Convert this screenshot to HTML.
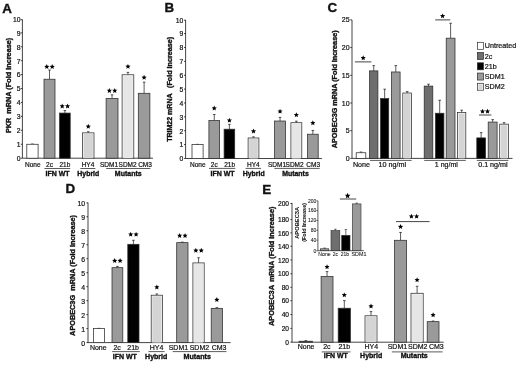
<!DOCTYPE html><html><head><meta charset="utf-8"><style>html,body{margin:0;padding:0;background:#fff;}svg{display:block;will-change:transform;opacity:0.999;font-family:"Liberation Sans",sans-serif;}</style></head><body>
<svg width="520" height="365" viewBox="0 0 520 365">
<rect width="520" height="365" fill="#fff"/>
<text x="2.30" y="12.50" font-size="13.4" text-anchor="start" fill="#111" font-weight="bold" stroke="#111" stroke-width="0.35">A</text>
<line x1="22.40" y1="19.40" x2="22.40" y2="158.20" stroke="#151515" stroke-width="0.8"/>
<line x1="22.40" y1="158.20" x2="153.00" y2="158.20" stroke="#151515" stroke-width="0.8"/>
<line x1="20.80" y1="158.20" x2="22.40" y2="158.20" stroke="#151515" stroke-width="0.8"/>
<text x="20.50" y="161.06" font-size="6.8" text-anchor="end" fill="#111" stroke="#111" stroke-width="0.2">0</text>
<line x1="20.80" y1="144.27" x2="22.40" y2="144.27" stroke="#151515" stroke-width="0.8"/>
<text x="20.50" y="147.13" font-size="6.8" text-anchor="end" fill="#111" stroke="#111" stroke-width="0.2">1</text>
<line x1="20.80" y1="130.34" x2="22.40" y2="130.34" stroke="#151515" stroke-width="0.8"/>
<text x="20.50" y="133.20" font-size="6.8" text-anchor="end" fill="#111" stroke="#111" stroke-width="0.2">2</text>
<line x1="20.80" y1="116.41" x2="22.40" y2="116.41" stroke="#151515" stroke-width="0.8"/>
<text x="20.50" y="119.27" font-size="6.8" text-anchor="end" fill="#111" stroke="#111" stroke-width="0.2">3</text>
<line x1="20.80" y1="102.48" x2="22.40" y2="102.48" stroke="#151515" stroke-width="0.8"/>
<text x="20.50" y="105.34" font-size="6.8" text-anchor="end" fill="#111" stroke="#111" stroke-width="0.2">4</text>
<line x1="20.80" y1="88.55" x2="22.40" y2="88.55" stroke="#151515" stroke-width="0.8"/>
<text x="20.50" y="91.41" font-size="6.8" text-anchor="end" fill="#111" stroke="#111" stroke-width="0.2">5</text>
<line x1="20.80" y1="74.62" x2="22.40" y2="74.62" stroke="#151515" stroke-width="0.8"/>
<text x="20.50" y="77.48" font-size="6.8" text-anchor="end" fill="#111" stroke="#111" stroke-width="0.2">6</text>
<line x1="20.80" y1="60.69" x2="22.40" y2="60.69" stroke="#151515" stroke-width="0.8"/>
<text x="20.50" y="63.55" font-size="6.8" text-anchor="end" fill="#111" stroke="#111" stroke-width="0.2">7</text>
<line x1="20.80" y1="46.76" x2="22.40" y2="46.76" stroke="#151515" stroke-width="0.8"/>
<text x="20.50" y="49.62" font-size="6.8" text-anchor="end" fill="#111" stroke="#111" stroke-width="0.2">8</text>
<line x1="20.80" y1="32.83" x2="22.40" y2="32.83" stroke="#151515" stroke-width="0.8"/>
<text x="20.50" y="35.69" font-size="6.8" text-anchor="end" fill="#111" stroke="#111" stroke-width="0.2">9</text>
<line x1="20.80" y1="19.70" x2="22.40" y2="19.70" stroke="#151515" stroke-width="0.8"/>
<text x="20.50" y="21.76" font-size="6.8" text-anchor="end" fill="#111" stroke="#111" stroke-width="0.2">10</text>
<line x1="32.45" y1="143.99" x2="32.45" y2="144.27" stroke="#151515" stroke-width="0.7"/>
<line x1="31.15" y1="143.99" x2="33.75" y2="143.99" stroke="#151515" stroke-width="0.7"/>
<rect x="26.80" y="144.27" width="11.30" height="13.93" fill="#fff" stroke="#2c2c2c" stroke-width="0.75"/>
<line x1="49.50" y1="70.02" x2="49.50" y2="79.22" stroke="#151515" stroke-width="0.7"/>
<line x1="48.20" y1="70.02" x2="50.80" y2="70.02" stroke="#151515" stroke-width="0.7"/>
<rect x="44.00" y="79.22" width="11.00" height="78.98" fill="#9a9a9a" stroke="#2c2c2c" stroke-width="0.75"/>
<polygon points="46.80,64.10 47.53,65.80 49.37,65.97 47.98,67.18 48.39,68.98 46.80,68.04 45.21,68.98 45.62,67.18 44.23,65.97 46.07,65.80" fill="#000"/>
<polygon points="52.20,64.10 52.93,65.80 54.77,65.97 53.38,67.18 53.79,68.98 52.20,68.04 50.61,68.98 51.02,67.18 49.63,65.97 51.47,65.80" fill="#000"/>
<line x1="64.90" y1="110.56" x2="64.90" y2="113.07" stroke="#151515" stroke-width="0.7"/>
<line x1="63.60" y1="110.56" x2="66.20" y2="110.56" stroke="#151515" stroke-width="0.7"/>
<rect x="59.60" y="113.07" width="10.60" height="45.13" fill="#000" stroke="#2c2c2c" stroke-width="0.75"/>
<polygon points="62.20,103.50 62.93,105.20 64.77,105.37 63.38,106.58 63.79,108.38 62.20,107.44 60.61,108.38 61.02,106.58 59.63,105.37 61.47,105.20" fill="#000"/>
<polygon points="67.60,103.50 68.33,105.20 70.17,105.37 68.78,106.58 69.19,108.38 67.60,107.44 66.01,108.38 66.42,106.58 65.03,105.37 66.87,105.20" fill="#000"/>
<line x1="88.25" y1="131.73" x2="88.25" y2="132.85" stroke="#151515" stroke-width="0.7"/>
<line x1="86.95" y1="131.73" x2="89.55" y2="131.73" stroke="#151515" stroke-width="0.7"/>
<rect x="82.50" y="132.85" width="11.50" height="25.35" fill="#f7f7f7" stroke="#2c2c2c" stroke-width="0.75"/>
<rect x="83.60" y="133.95" width="9.30" height="24.25" fill="#d4d4d4"/>
<polygon points="88.25,123.80 88.98,125.50 90.82,125.67 89.43,126.88 89.84,128.68 88.25,127.74 86.66,128.68 87.07,126.88 85.68,125.67 87.52,125.50" fill="#000"/>
<line x1="112.05" y1="94.82" x2="112.05" y2="98.44" stroke="#151515" stroke-width="0.7"/>
<line x1="110.75" y1="94.82" x2="113.35" y2="94.82" stroke="#151515" stroke-width="0.7"/>
<rect x="106.10" y="98.44" width="11.90" height="59.76" fill="#9a9a9a" stroke="#2c2c2c" stroke-width="0.75"/>
<polygon points="109.35,88.00 110.08,89.70 111.92,89.87 110.53,91.08 110.94,92.88 109.35,91.94 107.76,92.88 108.17,91.08 106.78,89.87 108.62,89.70" fill="#000"/>
<polygon points="114.75,88.00 115.48,89.70 117.32,89.87 115.93,91.08 116.34,92.88 114.75,91.94 113.16,92.88 113.57,91.08 112.18,89.87 114.02,89.70" fill="#000"/>
<line x1="127.95" y1="72.39" x2="127.95" y2="74.76" stroke="#151515" stroke-width="0.7"/>
<line x1="126.65" y1="72.39" x2="129.25" y2="72.39" stroke="#151515" stroke-width="0.7"/>
<rect x="122.10" y="74.76" width="11.70" height="83.44" fill="#f7f7f7" stroke="#2c2c2c" stroke-width="0.75"/>
<rect x="123.20" y="75.86" width="9.50" height="82.34" fill="#e6e6e6"/>
<polygon points="127.95,63.90 128.68,65.60 130.52,65.77 129.13,66.98 129.54,68.78 127.95,67.84 126.36,68.78 126.77,66.98 125.38,65.77 127.22,65.60" fill="#000"/>
<line x1="144.10" y1="82.14" x2="144.10" y2="93.29" stroke="#151515" stroke-width="0.7"/>
<line x1="142.80" y1="82.14" x2="145.40" y2="82.14" stroke="#151515" stroke-width="0.7"/>
<rect x="138.30" y="93.29" width="11.60" height="64.91" fill="#9a9a9a" stroke="#2c2c2c" stroke-width="0.75"/>
<polygon points="144.10,74.80 144.83,76.50 146.67,76.67 145.28,77.88 145.69,79.68 144.10,78.74 142.51,79.68 142.92,77.88 141.53,76.67 143.37,76.50" fill="#000"/>
<text x="10.80" y="133.00" font-size="7.1" text-anchor="start" fill="#111" font-weight="bold" stroke="#111" stroke-width="0.35" textLength="15.20" lengthAdjust="spacingAndGlyphs" transform="rotate(-90 10.80 133.00)">PKR</text>
<text x="10.80" y="113.70" font-size="7.1" text-anchor="start" fill="#111" font-weight="bold" stroke="#111" stroke-width="0.35" textLength="76.00" lengthAdjust="spacingAndGlyphs" transform="rotate(-90 10.80 113.70)">mRNA (Fold Increase)</text>
<text x="32.80" y="166.90" font-size="6.5" text-anchor="middle" fill="#111" stroke="#111" stroke-width="0.2">None</text>
<text x="49.50" y="166.90" font-size="6.5" text-anchor="middle" fill="#111" stroke="#111" stroke-width="0.2">2c</text>
<text x="64.90" y="166.90" font-size="6.5" text-anchor="middle" fill="#111" stroke="#111" stroke-width="0.2">21b</text>
<text x="88.00" y="166.90" font-size="6.5" text-anchor="middle" fill="#111" stroke="#111" stroke-width="0.2">HY4</text>
<text x="109.00" y="166.90" font-size="6.5" text-anchor="middle" fill="#111" stroke="#111" stroke-width="0.2">SDM1</text>
<text x="127.60" y="166.90" font-size="6.5" text-anchor="middle" fill="#111" stroke="#111" stroke-width="0.2">SDM2</text>
<text x="145.00" y="166.90" font-size="6.5" text-anchor="middle" fill="#111" stroke="#111" stroke-width="0.2">CM3</text>
<line x1="44.40" y1="168.50" x2="70.20" y2="168.50" stroke="#151515" stroke-width="0.7"/>
<line x1="80.40" y1="168.50" x2="95.40" y2="168.50" stroke="#151515" stroke-width="0.7"/>
<line x1="106.20" y1="168.50" x2="150.30" y2="168.50" stroke="#151515" stroke-width="0.7"/>
<text x="57.50" y="175.80" font-size="7.0" text-anchor="middle" fill="#111" font-weight="bold" stroke="#111" stroke-width="0.35" textLength="24.10" lengthAdjust="spacingAndGlyphs">IFN WT</text>
<text x="88.30" y="175.80" font-size="7.0" text-anchor="middle" fill="#111" font-weight="bold" stroke="#111" stroke-width="0.35" textLength="21.90" lengthAdjust="spacingAndGlyphs">Hybrid</text>
<text x="128.30" y="175.80" font-size="7.0" text-anchor="middle" fill="#111" font-weight="bold" stroke="#111" stroke-width="0.35" textLength="26.90" lengthAdjust="spacingAndGlyphs">Mutants</text>
<text x="164.60" y="12.30" font-size="13.4" text-anchor="start" fill="#111" font-weight="bold" stroke="#111" stroke-width="0.35">B</text>
<line x1="185.60" y1="19.90" x2="185.60" y2="158.50" stroke="#151515" stroke-width="0.8"/>
<line x1="185.60" y1="158.50" x2="321.90" y2="158.50" stroke="#151515" stroke-width="0.8"/>
<line x1="184.00" y1="158.50" x2="185.60" y2="158.50" stroke="#151515" stroke-width="0.8"/>
<text x="183.40" y="161.36" font-size="6.8" text-anchor="end" fill="#111" stroke="#111" stroke-width="0.2">0</text>
<line x1="184.00" y1="144.62" x2="185.60" y2="144.62" stroke="#151515" stroke-width="0.8"/>
<text x="183.40" y="147.48" font-size="6.8" text-anchor="end" fill="#111" stroke="#111" stroke-width="0.2">1</text>
<line x1="184.00" y1="130.74" x2="185.60" y2="130.74" stroke="#151515" stroke-width="0.8"/>
<text x="183.40" y="133.60" font-size="6.8" text-anchor="end" fill="#111" stroke="#111" stroke-width="0.2">2</text>
<line x1="184.00" y1="116.86" x2="185.60" y2="116.86" stroke="#151515" stroke-width="0.8"/>
<text x="183.40" y="119.72" font-size="6.8" text-anchor="end" fill="#111" stroke="#111" stroke-width="0.2">3</text>
<line x1="184.00" y1="102.98" x2="185.60" y2="102.98" stroke="#151515" stroke-width="0.8"/>
<text x="183.40" y="105.84" font-size="6.8" text-anchor="end" fill="#111" stroke="#111" stroke-width="0.2">4</text>
<line x1="184.00" y1="89.10" x2="185.60" y2="89.10" stroke="#151515" stroke-width="0.8"/>
<text x="183.40" y="91.96" font-size="6.8" text-anchor="end" fill="#111" stroke="#111" stroke-width="0.2">5</text>
<line x1="184.00" y1="75.22" x2="185.60" y2="75.22" stroke="#151515" stroke-width="0.8"/>
<text x="183.40" y="78.08" font-size="6.8" text-anchor="end" fill="#111" stroke="#111" stroke-width="0.2">6</text>
<line x1="184.00" y1="61.34" x2="185.60" y2="61.34" stroke="#151515" stroke-width="0.8"/>
<text x="183.40" y="64.20" font-size="6.8" text-anchor="end" fill="#111" stroke="#111" stroke-width="0.2">7</text>
<line x1="184.00" y1="47.46" x2="185.60" y2="47.46" stroke="#151515" stroke-width="0.8"/>
<text x="183.40" y="50.32" font-size="6.8" text-anchor="end" fill="#111" stroke="#111" stroke-width="0.2">8</text>
<line x1="184.00" y1="33.58" x2="185.60" y2="33.58" stroke="#151515" stroke-width="0.8"/>
<text x="183.40" y="36.44" font-size="6.8" text-anchor="end" fill="#111" stroke="#111" stroke-width="0.2">9</text>
<line x1="184.00" y1="20.20" x2="185.60" y2="20.20" stroke="#151515" stroke-width="0.8"/>
<text x="183.40" y="22.56" font-size="6.8" text-anchor="end" fill="#111" stroke="#111" stroke-width="0.2">10</text>
<line x1="197.55" y1="144.34" x2="197.55" y2="144.62" stroke="#151515" stroke-width="0.7"/>
<line x1="196.25" y1="144.34" x2="198.85" y2="144.34" stroke="#151515" stroke-width="0.7"/>
<rect x="192.00" y="144.62" width="11.10" height="13.88" fill="#fff" stroke="#2c2c2c" stroke-width="0.75"/>
<line x1="214.25" y1="114.50" x2="214.25" y2="120.47" stroke="#151515" stroke-width="0.7"/>
<line x1="212.95" y1="114.50" x2="215.55" y2="114.50" stroke="#151515" stroke-width="0.7"/>
<rect x="208.90" y="120.47" width="10.70" height="38.03" fill="#9a9a9a" stroke="#2c2c2c" stroke-width="0.75"/>
<polygon points="214.25,105.60 214.98,107.30 216.82,107.47 215.43,108.68 215.84,110.48 214.25,109.54 212.66,110.48 213.07,108.68 211.68,107.47 213.52,107.30" fill="#000"/>
<line x1="229.40" y1="124.36" x2="229.40" y2="129.21" stroke="#151515" stroke-width="0.7"/>
<line x1="228.10" y1="124.36" x2="230.70" y2="124.36" stroke="#151515" stroke-width="0.7"/>
<rect x="224.10" y="129.21" width="10.60" height="29.29" fill="#000" stroke="#2c2c2c" stroke-width="0.75"/>
<polygon points="229.40,117.70 230.13,119.40 231.97,119.57 230.58,120.78 230.99,122.58 229.40,121.64 227.81,122.58 228.22,120.78 226.83,119.57 228.67,119.40" fill="#000"/>
<line x1="253.50" y1="136.85" x2="253.50" y2="137.96" stroke="#151515" stroke-width="0.7"/>
<line x1="252.20" y1="136.85" x2="254.80" y2="136.85" stroke="#151515" stroke-width="0.7"/>
<rect x="248.10" y="137.96" width="10.80" height="20.54" fill="#f7f7f7" stroke="#2c2c2c" stroke-width="0.75"/>
<rect x="249.20" y="139.06" width="8.60" height="19.44" fill="#d4d4d4"/>
<polygon points="253.50,128.60 254.23,130.30 256.07,130.47 254.68,131.68 255.09,133.48 253.50,132.54 251.91,133.48 252.32,131.68 250.93,130.47 252.77,130.30" fill="#000"/>
<line x1="280.05" y1="117.42" x2="280.05" y2="121.02" stroke="#151515" stroke-width="0.7"/>
<line x1="278.75" y1="117.42" x2="281.35" y2="117.42" stroke="#151515" stroke-width="0.7"/>
<rect x="274.60" y="121.02" width="10.90" height="37.48" fill="#9a9a9a" stroke="#2c2c2c" stroke-width="0.75"/>
<polygon points="280.05,108.70 280.78,110.40 282.62,110.57 281.23,111.78 281.64,113.58 280.05,112.64 278.46,113.58 278.87,111.78 277.48,110.57 279.32,110.40" fill="#000"/>
<line x1="296.35" y1="121.16" x2="296.35" y2="122.69" stroke="#151515" stroke-width="0.7"/>
<line x1="295.05" y1="121.16" x2="297.65" y2="121.16" stroke="#151515" stroke-width="0.7"/>
<rect x="290.90" y="122.69" width="10.90" height="35.81" fill="#f7f7f7" stroke="#2c2c2c" stroke-width="0.75"/>
<rect x="292.00" y="123.79" width="8.70" height="34.71" fill="#e6e6e6"/>
<polygon points="296.35,112.20 297.08,113.90 298.92,114.07 297.53,115.28 297.94,117.08 296.35,116.14 294.76,117.08 295.17,115.28 293.78,114.07 295.62,113.90" fill="#000"/>
<line x1="312.85" y1="130.46" x2="312.85" y2="134.21" stroke="#151515" stroke-width="0.7"/>
<line x1="311.55" y1="130.46" x2="314.15" y2="130.46" stroke="#151515" stroke-width="0.7"/>
<rect x="307.50" y="134.21" width="10.70" height="24.29" fill="#9a9a9a" stroke="#2c2c2c" stroke-width="0.75"/>
<polygon points="312.85,120.30 313.58,122.00 315.42,122.17 314.03,123.38 314.44,125.18 312.85,124.24 311.26,125.18 311.67,123.38 310.28,122.17 312.12,122.00" fill="#000"/>
<text x="171.90" y="141.80" font-size="7.1" text-anchor="start" fill="#111" font-weight="bold" stroke="#111" stroke-width="0.35" textLength="48.40" lengthAdjust="spacingAndGlyphs" transform="rotate(-90 171.90 141.80)">TRIM22 mRNA</text>
<text x="171.90" y="88.00" font-size="7.1" text-anchor="start" fill="#111" font-weight="bold" stroke="#111" stroke-width="0.35" textLength="51.10" lengthAdjust="spacingAndGlyphs" transform="rotate(-90 171.90 88.00)">(Fold Increase)</text>
<text x="197.80" y="166.90" font-size="6.5" text-anchor="middle" fill="#111" stroke="#111" stroke-width="0.2">None</text>
<text x="214.30" y="166.90" font-size="6.5" text-anchor="middle" fill="#111" stroke="#111" stroke-width="0.2">2c</text>
<text x="229.60" y="166.90" font-size="6.5" text-anchor="middle" fill="#111" stroke="#111" stroke-width="0.2">21b</text>
<text x="253.30" y="166.90" font-size="6.5" text-anchor="middle" fill="#111" stroke="#111" stroke-width="0.2">HY4</text>
<text x="277.00" y="166.90" font-size="6.5" text-anchor="middle" fill="#111" stroke="#111" stroke-width="0.2">SDM1</text>
<text x="294.60" y="166.90" font-size="6.5" text-anchor="middle" fill="#111" stroke="#111" stroke-width="0.2">SDM2</text>
<text x="313.20" y="166.90" font-size="6.5" text-anchor="middle" fill="#111" stroke="#111" stroke-width="0.2">CM3</text>
<line x1="209.00" y1="168.40" x2="235.30" y2="168.40" stroke="#151515" stroke-width="0.7"/>
<line x1="245.60" y1="168.40" x2="261.00" y2="168.40" stroke="#151515" stroke-width="0.7"/>
<line x1="274.30" y1="168.40" x2="319.70" y2="168.40" stroke="#151515" stroke-width="0.7"/>
<text x="222.50" y="175.60" font-size="7.0" text-anchor="middle" fill="#111" font-weight="bold" stroke="#111" stroke-width="0.35" textLength="24.10" lengthAdjust="spacingAndGlyphs">IFN WT</text>
<text x="253.70" y="175.60" font-size="7.0" text-anchor="middle" fill="#111" font-weight="bold" stroke="#111" stroke-width="0.35" textLength="21.90" lengthAdjust="spacingAndGlyphs">Hybrid</text>
<text x="295.50" y="175.60" font-size="7.0" text-anchor="middle" fill="#111" font-weight="bold" stroke="#111" stroke-width="0.35" textLength="26.60" lengthAdjust="spacingAndGlyphs">Mutants</text>
<text x="65.60" y="193.40" font-size="13.4" text-anchor="start" fill="#111" font-weight="bold" stroke="#111" stroke-width="0.35">D</text>
<line x1="88.00" y1="202.60" x2="88.00" y2="342.60" stroke="#151515" stroke-width="0.8"/>
<line x1="88.00" y1="342.60" x2="230.60" y2="342.60" stroke="#151515" stroke-width="0.8"/>
<line x1="86.40" y1="342.60" x2="88.00" y2="342.60" stroke="#151515" stroke-width="0.8"/>
<text x="85.20" y="345.50" font-size="6.9" text-anchor="end" fill="#111" stroke="#111" stroke-width="0.2">0</text>
<line x1="86.40" y1="328.62" x2="88.00" y2="328.62" stroke="#151515" stroke-width="0.8"/>
<text x="85.20" y="331.52" font-size="6.9" text-anchor="end" fill="#111" stroke="#111" stroke-width="0.2">1</text>
<line x1="86.40" y1="314.64" x2="88.00" y2="314.64" stroke="#151515" stroke-width="0.8"/>
<text x="85.20" y="317.54" font-size="6.9" text-anchor="end" fill="#111" stroke="#111" stroke-width="0.2">2</text>
<line x1="86.40" y1="300.66" x2="88.00" y2="300.66" stroke="#151515" stroke-width="0.8"/>
<text x="85.20" y="303.56" font-size="6.9" text-anchor="end" fill="#111" stroke="#111" stroke-width="0.2">3</text>
<line x1="86.40" y1="286.68" x2="88.00" y2="286.68" stroke="#151515" stroke-width="0.8"/>
<text x="85.20" y="289.58" font-size="6.9" text-anchor="end" fill="#111" stroke="#111" stroke-width="0.2">4</text>
<line x1="86.40" y1="272.70" x2="88.00" y2="272.70" stroke="#151515" stroke-width="0.8"/>
<text x="85.20" y="275.60" font-size="6.9" text-anchor="end" fill="#111" stroke="#111" stroke-width="0.2">5</text>
<line x1="86.40" y1="258.72" x2="88.00" y2="258.72" stroke="#151515" stroke-width="0.8"/>
<text x="85.20" y="261.62" font-size="6.9" text-anchor="end" fill="#111" stroke="#111" stroke-width="0.2">6</text>
<line x1="86.40" y1="244.74" x2="88.00" y2="244.74" stroke="#151515" stroke-width="0.8"/>
<text x="85.20" y="247.64" font-size="6.9" text-anchor="end" fill="#111" stroke="#111" stroke-width="0.2">7</text>
<line x1="86.40" y1="230.76" x2="88.00" y2="230.76" stroke="#151515" stroke-width="0.8"/>
<text x="85.20" y="233.66" font-size="6.9" text-anchor="end" fill="#111" stroke="#111" stroke-width="0.2">8</text>
<line x1="86.40" y1="216.78" x2="88.00" y2="216.78" stroke="#151515" stroke-width="0.8"/>
<text x="85.20" y="219.68" font-size="6.9" text-anchor="end" fill="#111" stroke="#111" stroke-width="0.2">9</text>
<line x1="86.40" y1="202.90" x2="88.00" y2="202.90" stroke="#151515" stroke-width="0.8"/>
<text x="85.20" y="205.70" font-size="6.9" text-anchor="end" fill="#111" stroke="#111" stroke-width="0.2">10</text>
<line x1="98.90" y1="328.34" x2="98.90" y2="328.62" stroke="#151515" stroke-width="0.7"/>
<line x1="97.60" y1="328.34" x2="100.20" y2="328.34" stroke="#151515" stroke-width="0.7"/>
<rect x="93.40" y="328.62" width="11.00" height="13.98" fill="#fff" stroke="#2c2c2c" stroke-width="0.75"/>
<line x1="117.40" y1="266.41" x2="117.40" y2="267.67" stroke="#151515" stroke-width="0.7"/>
<line x1="116.10" y1="266.41" x2="118.70" y2="266.41" stroke="#151515" stroke-width="0.7"/>
<rect x="112.00" y="267.67" width="10.80" height="74.93" fill="#9a9a9a" stroke="#2c2c2c" stroke-width="0.75"/>
<polygon points="114.70,258.10 115.43,259.80 117.27,259.97 115.88,261.18 116.29,262.98 114.70,262.04 113.11,262.98 113.52,261.18 112.13,259.97 113.97,259.80" fill="#000"/>
<polygon points="120.10,258.10 120.83,259.80 122.67,259.97 121.28,261.18 121.69,262.98 120.10,262.04 118.51,262.98 118.92,261.18 117.53,259.97 119.37,259.80" fill="#000"/>
<line x1="133.40" y1="240.27" x2="133.40" y2="244.32" stroke="#151515" stroke-width="0.7"/>
<line x1="132.10" y1="240.27" x2="134.70" y2="240.27" stroke="#151515" stroke-width="0.7"/>
<rect x="127.80" y="244.32" width="11.20" height="98.28" fill="#000" stroke="#2c2c2c" stroke-width="0.75"/>
<polygon points="130.70,231.70 131.43,233.40 133.27,233.57 131.88,234.78 132.29,236.58 130.70,235.64 129.11,236.58 129.52,234.78 128.13,233.57 129.97,233.40" fill="#000"/>
<polygon points="136.10,231.70 136.83,233.40 138.67,233.57 137.28,234.78 137.69,236.58 136.10,235.64 134.51,236.58 134.92,234.78 133.53,233.57 135.37,233.40" fill="#000"/>
<line x1="156.85" y1="293.95" x2="156.85" y2="295.21" stroke="#151515" stroke-width="0.7"/>
<line x1="155.55" y1="293.95" x2="158.15" y2="293.95" stroke="#151515" stroke-width="0.7"/>
<rect x="151.20" y="295.21" width="11.30" height="47.39" fill="#f7f7f7" stroke="#2c2c2c" stroke-width="0.75"/>
<rect x="152.30" y="296.31" width="9.10" height="46.29" fill="#d4d4d4"/>
<polygon points="156.85,284.50 157.58,286.20 159.42,286.37 158.03,287.58 158.44,289.38 156.85,288.44 155.26,289.38 155.67,287.58 154.28,286.37 156.12,286.20" fill="#000"/>
<line x1="182.35" y1="242.08" x2="182.35" y2="242.64" stroke="#151515" stroke-width="0.7"/>
<line x1="181.05" y1="242.08" x2="183.65" y2="242.08" stroke="#151515" stroke-width="0.7"/>
<rect x="176.70" y="242.64" width="11.30" height="99.96" fill="#9a9a9a" stroke="#2c2c2c" stroke-width="0.75"/>
<polygon points="179.65,233.00 180.38,234.70 182.22,234.87 180.83,236.08 181.24,237.88 179.65,236.94 178.06,237.88 178.47,236.08 177.08,234.87 178.92,234.70" fill="#000"/>
<polygon points="185.05,233.00 185.78,234.70 187.62,234.87 186.23,236.08 186.64,237.88 185.05,236.94 183.46,237.88 183.87,236.08 182.48,234.87 184.32,234.70" fill="#000"/>
<line x1="198.55" y1="257.74" x2="198.55" y2="262.91" stroke="#151515" stroke-width="0.7"/>
<line x1="197.25" y1="257.74" x2="199.85" y2="257.74" stroke="#151515" stroke-width="0.7"/>
<rect x="192.90" y="262.91" width="11.30" height="79.69" fill="#f7f7f7" stroke="#2c2c2c" stroke-width="0.75"/>
<rect x="194.00" y="264.01" width="9.10" height="78.59" fill="#e6e6e6"/>
<polygon points="195.85,247.80 196.58,249.50 198.42,249.67 197.03,250.88 197.44,252.68 195.85,251.74 194.26,252.68 194.67,250.88 193.28,249.67 195.12,249.50" fill="#000"/>
<polygon points="201.25,247.80 201.98,249.50 203.82,249.67 202.43,250.88 202.84,252.68 201.25,251.74 199.66,252.68 200.07,250.88 198.68,249.67 200.52,249.50" fill="#000"/>
<line x1="216.85" y1="307.65" x2="216.85" y2="308.35" stroke="#151515" stroke-width="0.7"/>
<line x1="215.55" y1="307.65" x2="218.15" y2="307.65" stroke="#151515" stroke-width="0.7"/>
<rect x="211.20" y="308.35" width="11.30" height="34.25" fill="#9a9a9a" stroke="#2c2c2c" stroke-width="0.75"/>
<polygon points="216.85,297.10 217.58,298.80 219.42,298.97 218.03,300.18 218.44,301.98 216.85,301.04 215.26,301.98 215.67,300.18 214.28,298.97 216.12,298.80" fill="#000"/>
<text x="75.00" y="335.90" font-size="7.2" text-anchor="start" fill="#111" font-weight="bold" stroke="#111" stroke-width="0.35" textLength="41.00" lengthAdjust="spacingAndGlyphs" transform="rotate(-90 75.00 335.90)">APOBEC3G</text>
<text x="75.00" y="290.70" font-size="7.2" text-anchor="start" fill="#111" font-weight="bold" stroke="#111" stroke-width="0.35" textLength="75.70" lengthAdjust="spacingAndGlyphs" transform="rotate(-90 75.00 290.70)">mRNA (Fold Increase)</text>
<text x="98.30" y="349.90" font-size="7.0" text-anchor="middle" fill="#111" stroke="#111" stroke-width="0.2">None</text>
<text x="117.10" y="349.90" font-size="7.0" text-anchor="middle" fill="#111" stroke="#111" stroke-width="0.2">2c</text>
<text x="133.10" y="349.90" font-size="7.0" text-anchor="middle" fill="#111" stroke="#111" stroke-width="0.2">21b</text>
<text x="156.60" y="349.90" font-size="7.0" text-anchor="middle" fill="#111" stroke="#111" stroke-width="0.2">HY4</text>
<text x="178.40" y="349.90" font-size="7.0" text-anchor="middle" fill="#111" stroke="#111" stroke-width="0.2">SDM1</text>
<text x="199.40" y="349.90" font-size="7.0" text-anchor="middle" fill="#111" stroke="#111" stroke-width="0.2">SDM2</text>
<text x="219.10" y="349.90" font-size="7.0" text-anchor="middle" fill="#111" stroke="#111" stroke-width="0.2">CM3</text>
<line x1="112.10" y1="351.60" x2="139.80" y2="351.60" stroke="#151515" stroke-width="0.7"/>
<line x1="148.50" y1="351.60" x2="164.60" y2="351.60" stroke="#151515" stroke-width="0.7"/>
<line x1="172.70" y1="351.60" x2="226.50" y2="351.60" stroke="#151515" stroke-width="0.7"/>
<text x="124.80" y="359.00" font-size="7.0" text-anchor="middle" fill="#111" font-weight="bold" stroke="#111" stroke-width="0.35" textLength="24.20" lengthAdjust="spacingAndGlyphs">IFN WT</text>
<text x="156.20" y="359.00" font-size="7.0" text-anchor="middle" fill="#111" font-weight="bold" stroke="#111" stroke-width="0.35" textLength="22.30" lengthAdjust="spacingAndGlyphs">Hybrid</text>
<text x="197.20" y="359.00" font-size="7.0" text-anchor="middle" fill="#111" font-weight="bold" stroke="#111" stroke-width="0.35" textLength="27.40" lengthAdjust="spacingAndGlyphs">Mutants</text>
<text x="262.20" y="194.00" font-size="13.4" text-anchor="start" fill="#111" font-weight="bold" stroke="#111" stroke-width="0.35">E</text>
<line x1="292.00" y1="202.90" x2="292.00" y2="342.20" stroke="#151515" stroke-width="0.8"/>
<line x1="292.00" y1="342.20" x2="443.70" y2="342.20" stroke="#151515" stroke-width="0.8"/>
<line x1="290.40" y1="342.20" x2="292.00" y2="342.20" stroke="#151515" stroke-width="0.8"/>
<text x="289.00" y="344.97" font-size="6.6" text-anchor="end" fill="#111" stroke="#111" stroke-width="0.2">0</text>
<line x1="290.40" y1="328.40" x2="292.00" y2="328.40" stroke="#151515" stroke-width="0.8"/>
<text x="289.00" y="331.17" font-size="6.6" text-anchor="end" fill="#111" stroke="#111" stroke-width="0.2">20</text>
<line x1="290.40" y1="314.50" x2="292.00" y2="314.50" stroke="#151515" stroke-width="0.8"/>
<text x="289.00" y="317.27" font-size="6.6" text-anchor="end" fill="#111" stroke="#111" stroke-width="0.2">40</text>
<line x1="290.40" y1="300.70" x2="292.00" y2="300.70" stroke="#151515" stroke-width="0.8"/>
<text x="289.00" y="303.47" font-size="6.6" text-anchor="end" fill="#111" stroke="#111" stroke-width="0.2">60</text>
<line x1="290.40" y1="287.30" x2="292.00" y2="287.30" stroke="#151515" stroke-width="0.8"/>
<text x="289.00" y="290.07" font-size="6.6" text-anchor="end" fill="#111" stroke="#111" stroke-width="0.2">80</text>
<line x1="290.40" y1="273.70" x2="292.00" y2="273.70" stroke="#151515" stroke-width="0.8"/>
<text x="289.00" y="276.47" font-size="6.6" text-anchor="end" fill="#111" stroke="#111" stroke-width="0.2">100</text>
<line x1="290.40" y1="260.00" x2="292.00" y2="260.00" stroke="#151515" stroke-width="0.8"/>
<text x="289.00" y="262.77" font-size="6.6" text-anchor="end" fill="#111" stroke="#111" stroke-width="0.2">120</text>
<line x1="290.40" y1="246.30" x2="292.00" y2="246.30" stroke="#151515" stroke-width="0.8"/>
<text x="289.00" y="249.07" font-size="6.6" text-anchor="end" fill="#111" stroke="#111" stroke-width="0.2">140</text>
<line x1="290.40" y1="232.90" x2="292.00" y2="232.90" stroke="#151515" stroke-width="0.8"/>
<text x="289.00" y="235.67" font-size="6.6" text-anchor="end" fill="#111" stroke="#111" stroke-width="0.2">160</text>
<line x1="290.40" y1="219.60" x2="292.00" y2="219.60" stroke="#151515" stroke-width="0.8"/>
<text x="289.00" y="222.37" font-size="6.6" text-anchor="end" fill="#111" stroke="#111" stroke-width="0.2">180</text>
<line x1="290.40" y1="203.50" x2="292.00" y2="203.50" stroke="#151515" stroke-width="0.8"/>
<text x="289.00" y="206.27" font-size="6.6" text-anchor="end" fill="#111" stroke="#111" stroke-width="0.2">200</text>
<line x1="305.80" y1="340.66" x2="305.80" y2="341.22" stroke="#151515" stroke-width="0.7"/>
<line x1="304.50" y1="340.66" x2="307.10" y2="340.66" stroke="#151515" stroke-width="0.7"/>
<rect x="299.10" y="341.22" width="13.40" height="0.98" fill="#6e6e6e" stroke="#2c2c2c" stroke-width="0.75"/>
<line x1="327.05" y1="271.60" x2="327.05" y2="276.49" stroke="#151515" stroke-width="0.7"/>
<line x1="325.75" y1="271.60" x2="328.35" y2="271.60" stroke="#151515" stroke-width="0.7"/>
<rect x="321.10" y="276.49" width="11.90" height="65.71" fill="#9a9a9a" stroke="#2c2c2c" stroke-width="0.75"/>
<polygon points="327.05,264.20 327.78,265.90 329.62,266.07 328.23,267.28 328.64,269.08 327.05,268.14 325.46,269.08 325.87,267.28 324.48,266.07 326.32,265.90" fill="#000"/>
<line x1="344.30" y1="300.61" x2="344.30" y2="308.23" stroke="#151515" stroke-width="0.7"/>
<line x1="343.00" y1="300.61" x2="345.60" y2="300.61" stroke="#151515" stroke-width="0.7"/>
<rect x="338.20" y="308.23" width="12.20" height="33.97" fill="#000" stroke="#2c2c2c" stroke-width="0.75"/>
<polygon points="344.30,292.40 345.03,294.10 346.87,294.27 345.48,295.48 345.89,297.28 344.30,296.34 342.71,297.28 343.12,295.48 341.73,294.27 343.57,294.10" fill="#000"/>
<line x1="371.00" y1="311.58" x2="371.00" y2="315.78" stroke="#151515" stroke-width="0.7"/>
<line x1="369.70" y1="311.58" x2="372.30" y2="311.58" stroke="#151515" stroke-width="0.7"/>
<rect x="365.00" y="315.78" width="12.00" height="26.42" fill="#f7f7f7" stroke="#2c2c2c" stroke-width="0.75"/>
<rect x="366.10" y="316.88" width="9.80" height="25.32" fill="#d4d4d4"/>
<polygon points="371.00,303.60 371.73,305.30 373.57,305.47 372.18,306.68 372.59,308.48 371.00,307.54 369.41,308.48 369.82,306.68 368.43,305.47 370.27,305.30" fill="#000"/>
<line x1="400.55" y1="232.46" x2="400.55" y2="240.29" stroke="#151515" stroke-width="0.7"/>
<line x1="399.25" y1="232.46" x2="401.85" y2="232.46" stroke="#151515" stroke-width="0.7"/>
<rect x="394.50" y="240.29" width="12.10" height="101.91" fill="#9a9a9a" stroke="#2c2c2c" stroke-width="0.75"/>
<polygon points="400.55,224.10 401.28,225.80 403.12,225.97 401.73,227.18 402.14,228.98 400.55,228.04 398.96,228.98 399.37,227.18 397.98,225.97 399.82,225.80" fill="#000"/>
<line x1="417.10" y1="286.28" x2="417.10" y2="293.27" stroke="#151515" stroke-width="0.7"/>
<line x1="415.80" y1="286.28" x2="418.40" y2="286.28" stroke="#151515" stroke-width="0.7"/>
<rect x="411.00" y="293.27" width="12.20" height="48.93" fill="#f7f7f7" stroke="#2c2c2c" stroke-width="0.75"/>
<rect x="412.10" y="294.37" width="10.00" height="47.83" fill="#e6e6e6"/>
<polygon points="417.10,277.20 417.83,278.90 419.67,279.07 418.28,280.28 418.69,282.08 417.10,281.14 415.51,282.08 415.92,280.28 414.53,279.07 416.37,278.90" fill="#000"/>
<line x1="433.10" y1="321.02" x2="433.10" y2="321.65" stroke="#151515" stroke-width="0.7"/>
<line x1="431.80" y1="321.02" x2="434.40" y2="321.02" stroke="#151515" stroke-width="0.7"/>
<rect x="427.20" y="321.65" width="11.80" height="20.55" fill="#9a9a9a" stroke="#2c2c2c" stroke-width="0.75"/>
<polygon points="433.10,312.30 433.83,314.00 435.67,314.17 434.28,315.38 434.69,317.18 433.10,316.24 431.51,317.18 431.92,315.38 430.53,314.17 432.37,314.00" fill="#000"/>
<text x="273.80" y="326.00" font-size="7.2" text-anchor="start" fill="#111" font-weight="bold" stroke="#111" stroke-width="0.35" textLength="41.00" lengthAdjust="spacingAndGlyphs" transform="rotate(-90 273.80 326.00)">APOBEC3A</text>
<text x="273.80" y="281.80" font-size="7.2" text-anchor="start" fill="#111" font-weight="bold" stroke="#111" stroke-width="0.35" textLength="21.00" lengthAdjust="spacingAndGlyphs" transform="rotate(-90 273.80 281.80)">mRNA</text>
<text x="273.80" y="258.70" font-size="7.2" text-anchor="start" fill="#111" font-weight="bold" stroke="#111" stroke-width="0.35" textLength="52.10" lengthAdjust="spacingAndGlyphs" transform="rotate(-90 273.80 258.70)">(Fold Increase)</text>
<text x="306.10" y="349.30" font-size="7.0" text-anchor="middle" fill="#111" stroke="#111" stroke-width="0.2">None</text>
<text x="326.90" y="349.30" font-size="7.0" text-anchor="middle" fill="#111" stroke="#111" stroke-width="0.2">2c</text>
<text x="344.30" y="349.30" font-size="7.0" text-anchor="middle" fill="#111" stroke="#111" stroke-width="0.2">21b</text>
<text x="371.30" y="349.30" font-size="7.0" text-anchor="middle" fill="#111" stroke="#111" stroke-width="0.2">HY4</text>
<text x="397.40" y="349.30" font-size="7.0" text-anchor="middle" fill="#111" stroke="#111" stroke-width="0.2">SDM1</text>
<text x="417.70" y="349.30" font-size="7.0" text-anchor="middle" fill="#111" stroke="#111" stroke-width="0.2">SDM2</text>
<text x="436.30" y="349.30" font-size="7.0" text-anchor="middle" fill="#111" stroke="#111" stroke-width="0.2">CM3</text>
<line x1="321.70" y1="351.90" x2="350.50" y2="351.90" stroke="#151515" stroke-width="0.7"/>
<line x1="362.80" y1="351.90" x2="379.80" y2="351.90" stroke="#151515" stroke-width="0.7"/>
<line x1="391.80" y1="351.90" x2="442.60" y2="351.90" stroke="#151515" stroke-width="0.7"/>
<text x="335.80" y="358.40" font-size="7.0" text-anchor="middle" fill="#111" font-weight="bold" stroke="#111" stroke-width="0.35" textLength="24.00" lengthAdjust="spacingAndGlyphs">IFN WT</text>
<text x="371.20" y="358.40" font-size="7.0" text-anchor="middle" fill="#111" font-weight="bold" stroke="#111" stroke-width="0.35" textLength="22.20" lengthAdjust="spacingAndGlyphs">Hybrid</text>
<text x="414.20" y="358.40" font-size="7.0" text-anchor="middle" fill="#111" font-weight="bold" stroke="#111" stroke-width="0.35" textLength="27.10" lengthAdjust="spacingAndGlyphs">Mutants</text>
<line x1="396.00" y1="221.60" x2="429.60" y2="221.60" stroke="#151515" stroke-width="0.8"/>
<polygon points="411.40,213.70 412.13,215.40 413.97,215.57 412.58,216.78 412.99,218.58 411.40,217.64 409.81,218.58 410.22,216.78 408.83,215.57 410.67,215.40" fill="#000"/>
<polygon points="416.60,213.70 417.33,215.40 419.17,215.57 417.78,216.78 418.19,218.58 416.60,217.64 415.01,218.58 415.42,216.78 414.03,215.57 415.87,215.40" fill="#000"/>
<line x1="317.90" y1="200.80" x2="317.90" y2="250.70" stroke="#151515" stroke-width="0.7"/>
<line x1="317.90" y1="250.70" x2="363.90" y2="250.70" stroke="#151515" stroke-width="0.7"/>
<line x1="316.30" y1="250.70" x2="317.90" y2="250.70" stroke="#151515" stroke-width="0.6"/>
<text x="316.30" y="252.50" font-size="5.0" text-anchor="end" fill="#111" stroke="#111" stroke-width="0.06">0</text>
<line x1="316.30" y1="240.16" x2="317.90" y2="240.16" stroke="#151515" stroke-width="0.6"/>
<text x="316.30" y="241.96" font-size="5.0" text-anchor="end" fill="#111" stroke="#111" stroke-width="0.06">40</text>
<line x1="316.30" y1="230.32" x2="317.90" y2="230.32" stroke="#151515" stroke-width="0.6"/>
<text x="316.30" y="232.12" font-size="5.0" text-anchor="end" fill="#111" stroke="#111" stroke-width="0.06">80</text>
<line x1="316.30" y1="220.48" x2="317.90" y2="220.48" stroke="#151515" stroke-width="0.6"/>
<text x="316.30" y="222.28" font-size="5.0" text-anchor="end" fill="#111" stroke="#111" stroke-width="0.06">120</text>
<line x1="316.30" y1="210.64" x2="317.90" y2="210.64" stroke="#151515" stroke-width="0.6"/>
<text x="316.30" y="212.44" font-size="5.0" text-anchor="end" fill="#111" stroke="#111" stroke-width="0.06">160</text>
<line x1="316.30" y1="200.80" x2="317.90" y2="200.80" stroke="#151515" stroke-width="0.6"/>
<text x="316.30" y="202.60" font-size="5.0" text-anchor="end" fill="#111" stroke="#111" stroke-width="0.06">200</text>
<line x1="324.60" y1="248.03" x2="324.60" y2="248.77" stroke="#151515" stroke-width="0.6"/>
<line x1="323.40" y1="248.03" x2="325.80" y2="248.03" stroke="#151515" stroke-width="0.6"/>
<rect x="320.40" y="248.77" width="8.40" height="1.93" fill="#9a9a9a" stroke="#2c2c2c" stroke-width="0.6"/>
<line x1="335.40" y1="229.21" x2="335.40" y2="230.57" stroke="#151515" stroke-width="0.6"/>
<line x1="334.20" y1="229.21" x2="336.60" y2="229.21" stroke="#151515" stroke-width="0.6"/>
<rect x="331.00" y="230.57" width="8.80" height="20.13" fill="#6e6e6e" stroke="#2c2c2c" stroke-width="0.6"/>
<line x1="345.85" y1="229.58" x2="345.85" y2="235.34" stroke="#151515" stroke-width="0.6"/>
<line x1="344.65" y1="229.58" x2="347.05" y2="229.58" stroke="#151515" stroke-width="0.6"/>
<rect x="341.70" y="235.34" width="8.30" height="15.36" fill="#000" stroke="#2c2c2c" stroke-width="0.6"/>
<line x1="356.70" y1="203.14" x2="356.70" y2="203.90" stroke="#151515" stroke-width="0.6"/>
<line x1="355.50" y1="203.14" x2="357.90" y2="203.14" stroke="#151515" stroke-width="0.6"/>
<rect x="352.40" y="203.90" width="8.60" height="46.80" fill="#9a9a9a" stroke="#2c2c2c" stroke-width="0.6"/>
<line x1="339.90" y1="199.00" x2="356.20" y2="199.00" stroke="#151515" stroke-width="0.8"/>
<polygon points="347.60,192.80 348.41,194.68 350.45,194.87 348.91,196.23 349.36,198.23 347.60,197.18 345.84,198.23 346.29,196.23 344.75,194.87 346.79,194.68" fill="#000"/>
<text x="324.50" y="256.20" font-size="5.3" text-anchor="middle" fill="#111" stroke="#111" stroke-width="0.06" textLength="12.30" lengthAdjust="spacingAndGlyphs">None</text>
<text x="335.40" y="256.20" font-size="5.3" text-anchor="middle" fill="#111" stroke="#111" stroke-width="0.06" textLength="5.20" lengthAdjust="spacingAndGlyphs">2c</text>
<text x="345.00" y="256.20" font-size="5.3" text-anchor="middle" fill="#111" stroke="#111" stroke-width="0.06" textLength="8.30" lengthAdjust="spacingAndGlyphs">21b</text>
<text x="359.00" y="256.20" font-size="5.3" text-anchor="middle" fill="#111" stroke="#111" stroke-width="0.06" textLength="15.00" lengthAdjust="spacingAndGlyphs">SDM1</text>
<text x="298.60" y="238.80" font-size="5.4" text-anchor="start" fill="#111" font-weight="bold" stroke="#111" stroke-width="0.05" textLength="32.00" lengthAdjust="spacingAndGlyphs" transform="rotate(-90 298.60 238.80)">APOBEC3A</text>
<text x="305.70" y="241.80" font-size="5.2" text-anchor="start" fill="#111" font-weight="bold" stroke="#111" stroke-width="0.05" textLength="38.80" lengthAdjust="spacingAndGlyphs" transform="rotate(-90 305.70 241.80)">(Fold Increase)</text>
<text x="327.50" y="12.10" font-size="13.4" text-anchor="start" fill="#111" font-weight="bold" stroke="#111" stroke-width="0.35">C</text>
<line x1="352.00" y1="19.90" x2="352.00" y2="158.40" stroke="#151515" stroke-width="0.8"/>
<line x1="352.00" y1="158.40" x2="512.50" y2="158.40" stroke="#151515" stroke-width="0.8"/>
<line x1="350.30" y1="158.40" x2="352.00" y2="158.40" stroke="#151515" stroke-width="0.8"/>
<text x="349.60" y="160.90" font-size="7.0" text-anchor="end" fill="#111" stroke="#111" stroke-width="0.2">0</text>
<line x1="350.30" y1="130.70" x2="352.00" y2="130.70" stroke="#151515" stroke-width="0.8"/>
<text x="349.60" y="133.20" font-size="7.0" text-anchor="end" fill="#111" stroke="#111" stroke-width="0.2">5</text>
<line x1="350.30" y1="103.00" x2="352.00" y2="103.00" stroke="#151515" stroke-width="0.8"/>
<text x="349.60" y="105.50" font-size="7.0" text-anchor="end" fill="#111" stroke="#111" stroke-width="0.2">10</text>
<line x1="350.30" y1="75.30" x2="352.00" y2="75.30" stroke="#151515" stroke-width="0.8"/>
<text x="349.60" y="77.80" font-size="7.0" text-anchor="end" fill="#111" stroke="#111" stroke-width="0.2">15</text>
<line x1="350.30" y1="47.60" x2="352.00" y2="47.60" stroke="#151515" stroke-width="0.8"/>
<text x="349.60" y="50.10" font-size="7.0" text-anchor="end" fill="#111" stroke="#111" stroke-width="0.2">20</text>
<line x1="350.30" y1="19.90" x2="352.00" y2="19.90" stroke="#151515" stroke-width="0.8"/>
<text x="349.60" y="22.40" font-size="7.0" text-anchor="end" fill="#111" stroke="#111" stroke-width="0.2">25</text>
<line x1="361.00" y1="152.03" x2="361.00" y2="152.75" stroke="#151515" stroke-width="0.7"/>
<line x1="359.70" y1="152.03" x2="362.30" y2="152.03" stroke="#151515" stroke-width="0.7"/>
<rect x="356.20" y="152.75" width="9.60" height="5.65" fill="#fff" stroke="#2c2c2c" stroke-width="0.75"/>
<line x1="373.75" y1="65.61" x2="373.75" y2="70.87" stroke="#151515" stroke-width="0.7"/>
<line x1="372.45" y1="65.61" x2="375.05" y2="65.61" stroke="#151515" stroke-width="0.7"/>
<rect x="369.60" y="70.87" width="8.30" height="87.53" fill="#6e6e6e" stroke="#2c2c2c" stroke-width="0.75"/>
<line x1="384.65" y1="89.15" x2="384.65" y2="98.57" stroke="#151515" stroke-width="0.7"/>
<line x1="383.35" y1="89.15" x2="385.95" y2="89.15" stroke="#151515" stroke-width="0.7"/>
<rect x="380.60" y="98.57" width="8.10" height="59.83" fill="#000" stroke="#2c2c2c" stroke-width="0.75"/>
<line x1="395.80" y1="65.61" x2="395.80" y2="71.98" stroke="#151515" stroke-width="0.7"/>
<line x1="394.50" y1="65.61" x2="397.10" y2="65.61" stroke="#151515" stroke-width="0.7"/>
<rect x="391.50" y="71.98" width="8.60" height="86.42" fill="#9a9a9a" stroke="#2c2c2c" stroke-width="0.75"/>
<line x1="407.20" y1="91.64" x2="407.20" y2="93.03" stroke="#151515" stroke-width="0.7"/>
<line x1="405.90" y1="91.64" x2="408.50" y2="91.64" stroke="#151515" stroke-width="0.7"/>
<rect x="402.80" y="93.03" width="8.80" height="65.37" fill="#f7f7f7" stroke="#2c2c2c" stroke-width="0.75"/>
<rect x="403.90" y="94.13" width="6.60" height="64.27" fill="#d4d4d4"/>
<line x1="428.50" y1="84.16" x2="428.50" y2="86.10" stroke="#151515" stroke-width="0.7"/>
<line x1="427.20" y1="84.16" x2="429.80" y2="84.16" stroke="#151515" stroke-width="0.7"/>
<rect x="424.20" y="86.10" width="8.60" height="72.30" fill="#6e6e6e" stroke="#2c2c2c" stroke-width="0.75"/>
<line x1="439.70" y1="100.23" x2="439.70" y2="113.25" stroke="#151515" stroke-width="0.7"/>
<line x1="438.40" y1="100.23" x2="441.00" y2="100.23" stroke="#151515" stroke-width="0.7"/>
<rect x="435.50" y="113.25" width="8.40" height="45.15" fill="#000" stroke="#2c2c2c" stroke-width="0.75"/>
<line x1="450.60" y1="23.22" x2="450.60" y2="38.18" stroke="#151515" stroke-width="0.7"/>
<line x1="449.30" y1="23.22" x2="451.90" y2="23.22" stroke="#151515" stroke-width="0.7"/>
<rect x="446.20" y="38.18" width="8.80" height="120.22" fill="#9a9a9a" stroke="#2c2c2c" stroke-width="0.75"/>
<line x1="461.70" y1="110.20" x2="461.70" y2="112.42" stroke="#151515" stroke-width="0.7"/>
<line x1="460.40" y1="110.20" x2="463.00" y2="110.20" stroke="#151515" stroke-width="0.7"/>
<rect x="457.60" y="112.42" width="8.20" height="45.98" fill="#f7f7f7" stroke="#2c2c2c" stroke-width="0.75"/>
<rect x="458.70" y="113.52" width="6.00" height="44.88" fill="#d4d4d4"/>
<line x1="481.15" y1="132.64" x2="481.15" y2="137.90" stroke="#151515" stroke-width="0.7"/>
<line x1="479.85" y1="132.64" x2="482.45" y2="132.64" stroke="#151515" stroke-width="0.7"/>
<rect x="476.80" y="137.90" width="8.70" height="20.50" fill="#000" stroke="#2c2c2c" stroke-width="0.75"/>
<line x1="492.65" y1="119.62" x2="492.65" y2="122.06" stroke="#151515" stroke-width="0.7"/>
<line x1="491.35" y1="119.62" x2="493.95" y2="119.62" stroke="#151515" stroke-width="0.7"/>
<rect x="488.20" y="122.06" width="8.90" height="36.34" fill="#9a9a9a" stroke="#2c2c2c" stroke-width="0.75"/>
<line x1="504.05" y1="122.67" x2="504.05" y2="124.16" stroke="#151515" stroke-width="0.7"/>
<line x1="502.75" y1="122.67" x2="505.35" y2="122.67" stroke="#151515" stroke-width="0.7"/>
<rect x="499.70" y="124.16" width="8.70" height="34.24" fill="#f7f7f7" stroke="#2c2c2c" stroke-width="0.75"/>
<rect x="500.80" y="125.26" width="6.50" height="33.14" fill="#d4d4d4"/>
<line x1="370.00" y1="160.40" x2="411.60" y2="160.40" stroke="#151515" stroke-width="0.7"/>
<line x1="424.20" y1="160.40" x2="465.80" y2="160.40" stroke="#151515" stroke-width="0.7"/>
<line x1="476.80" y1="160.40" x2="508.40" y2="160.40" stroke="#151515" stroke-width="0.7"/>
<text x="361.40" y="167.20" font-size="7.2" text-anchor="middle" fill="#111" stroke="#111" stroke-width="0.2" textLength="17.00" lengthAdjust="spacingAndGlyphs">None</text>
<text x="392.40" y="167.20" font-size="7.0" text-anchor="middle" fill="#111" stroke="#111" stroke-width="0.2" textLength="27.60" lengthAdjust="spacingAndGlyphs">10 ng/ml</text>
<text x="446.30" y="167.20" font-size="7.0" text-anchor="middle" fill="#111" stroke="#111" stroke-width="0.2" textLength="23.00" lengthAdjust="spacingAndGlyphs">1 ng/ml</text>
<text x="492.90" y="167.20" font-size="7.0" text-anchor="middle" fill="#111" stroke="#111" stroke-width="0.2" textLength="29.40" lengthAdjust="spacingAndGlyphs">0.1 ng/ml</text>
<line x1="354.90" y1="61.90" x2="371.40" y2="61.90" stroke="#151515" stroke-width="0.8"/>
<polygon points="363.20,55.30 363.93,57.00 365.77,57.17 364.38,58.38 364.79,60.18 363.20,59.24 361.61,60.18 362.02,58.38 360.63,57.17 362.47,57.00" fill="#000"/>
<line x1="435.20" y1="19.90" x2="450.20" y2="19.90" stroke="#151515" stroke-width="0.8"/>
<polygon points="442.60,13.40 443.33,15.10 445.17,15.27 443.78,16.48 444.19,18.28 442.60,17.34 441.01,18.28 441.42,16.48 440.03,15.27 441.87,15.10" fill="#000"/>
<line x1="479.00" y1="115.00" x2="491.30" y2="115.00" stroke="#151515" stroke-width="0.8"/>
<polygon points="482.50,108.70 483.23,110.40 485.07,110.57 483.68,111.78 484.09,113.58 482.50,112.64 480.91,113.58 481.32,111.78 479.93,110.57 481.77,110.40" fill="#000"/>
<polygon points="487.50,108.70 488.23,110.40 490.07,110.57 488.68,111.78 489.09,113.58 487.50,112.64 485.91,113.58 486.32,111.78 484.93,110.57 486.77,110.40" fill="#000"/>
<text x="336.70" y="148.20" font-size="7.1" text-anchor="start" fill="#111" font-weight="bold" stroke="#111" stroke-width="0.35" textLength="117.80" lengthAdjust="spacingAndGlyphs" transform="rotate(-90 336.70 148.20)">APOBEC3G mRNA (Fold Increase)</text>
<rect x="477.40" y="42.30" width="6.10" height="7.00" fill="#fff" stroke="#2c2c2c" stroke-width="0.7"/>
<text x="484.80" y="48.40" font-size="7.0" text-anchor="start" fill="#111" stroke="#111" stroke-width="0.2" textLength="31.40" lengthAdjust="spacingAndGlyphs">Untreated</text>
<rect x="477.40" y="52.55" width="6.10" height="7.00" fill="#6e6e6e" stroke="#2c2c2c" stroke-width="0.7"/>
<text x="484.80" y="58.65" font-size="7.0" text-anchor="start" fill="#111" stroke="#111" stroke-width="0.2" textLength="7.60" lengthAdjust="spacingAndGlyphs">2c</text>
<rect x="477.40" y="62.80" width="6.10" height="7.00" fill="#000" stroke="#2c2c2c" stroke-width="0.7"/>
<text x="484.80" y="68.90" font-size="7.0" text-anchor="start" fill="#111" stroke="#111" stroke-width="0.2" textLength="12.00" lengthAdjust="spacingAndGlyphs">21b</text>
<rect x="477.40" y="73.05" width="6.10" height="7.00" fill="#9a9a9a" stroke="#2c2c2c" stroke-width="0.7"/>
<text x="484.80" y="79.15" font-size="7.0" text-anchor="start" fill="#111" stroke="#111" stroke-width="0.2" textLength="19.80" lengthAdjust="spacingAndGlyphs">SDM1</text>
<rect x="477.40" y="83.30" width="6.10" height="7.00" fill="#f7f7f7" stroke="#2c2c2c" stroke-width="0.7"/>
<rect x="478.50" y="84.40" width="3.90" height="5.90" fill="#d4d4d4"/>
<text x="484.80" y="89.40" font-size="7.0" text-anchor="start" fill="#111" stroke="#111" stroke-width="0.2" textLength="19.80" lengthAdjust="spacingAndGlyphs">SDM2</text>
</svg></body></html>
